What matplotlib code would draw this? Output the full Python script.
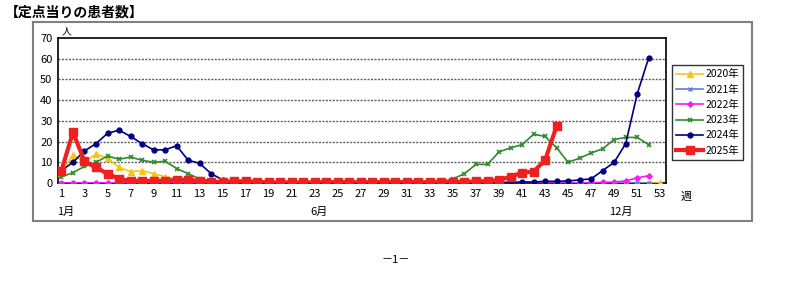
import matplotlib
matplotlib.use("Agg")
import matplotlib.pyplot as plt
from matplotlib.patches import Rectangle
import numpy as np

plt.rcParams['font.family'] = ['Noto Sans CJK JP', 'DejaVu Sans']

weeks_2020 = list(range(1, 54))
weeks = list(range(1, 53))

v2020 = [5, 13.5, 10, 14, 12, 7.5, 5.5, 6, 4.5, 3, 2, 1.5, 1, 0.5, 0.2] + [0] * 38
v2021 = [0] * 52
v2022 = [0] * 46 + [0.2, 0.3, 0.5, 1, 2.5, 3.5]
v2023 = [3, 5, 8, 10, 13, 11.5, 12.5, 11, 10, 10.5, 7, 4.5, 2, 1, 0.5,
         0.2, 0.1, 0.1, 0.1, 0.1, 0.1, 0.1, 0.1, 0.1, 0.1, 0.1, 0.1, 0.1, 0.1, 0.1,
         0.2, 0.2, 0.3, 0.5, 2, 4.5, 9, 9, 15, 17, 18.5, 23.5, 22.5, 17, 10, 12,
         14.5, 16.5, 21, 22, 22, 18.5]
v2024 = [6, 10, 15.5, 19, 24, 25.5, 22.5, 19, 16, 16, 18, 11, 9.5, 4.5, 1.5, 0.5,
         0.2, 0.1, 0.1, 0.1, 0.1, 0.1, 0.1, 0.1, 0.1, 0.1, 0.1, 0.1, 0.1, 0.1,
         0.1, 0.1, 0.1, 0.1, 0.1, 0.1, 0.2, 0.2, 0.3, 0.3, 0.5, 0.5, 0.8, 0.8,
         1, 1.5, 2, 6, 10, 19, 43, 60.5]
weeks_2025 = list(range(1, 45))
v2025 = [6, 24.5, 10.5, 7.5, 4.5, 2, 1, 1, 1, 1, 1.5, 1.5, 1, 0.5, 0.5, 0.8,
         0.8, 0.5, 0.3, 0.3, 0.3, 0.3, 0.3, 0.4, 0.4, 0.4, 0.3, 0.4, 0.5, 0.5,
         0.5, 0.4, 0.3, 0.5, 0.5, 0.5, 0.8, 0.8, 1.5, 3, 5, 5.5, 11, 27.5]

xticks = list(range(1, 54, 2))
yticks = list(range(0, 71, 10))
months = ['1月', '6月', '12月']
month_pos = [1.4, 23.4, 49.6]

fig = plt.figure(figsize=(7.92, 2.88), dpi=100)
fig.patch.set_facecolor('white')

# outer frame
fig.add_artist(Rectangle((33/792, 1-221/288), (752-33)/792, (221-22)/288,
                         transform=fig.transFigure, fill=False,
                         edgecolor='#808080', lw=1.5))

fig.text(5/792, 1-12/288, '【定点当りの患者数】', fontsize=10, fontweight='bold',
         va='center', ha='left')
fig.text(396/792, 1-260/288, '－1－', fontsize=8, va='center', ha='center')

ax = fig.add_axes([58/792, 1-183/288, (666-58)/792, (183-38)/288])
ax.set_xlim(0.7, 53.5)
ax.set_ylim(0, 70)

for y in yticks[1:-1]:
    ax.axhline(y, color='#606060', lw=1, linestyle=(0, (1.5, 1)), zorder=1)

ax.plot(weeks_2020, v2020, color='#F5C518', marker='^', ms=4, lw=1.2, label='2020年', zorder=3)
ax.plot(weeks, v2021, color='#5A7BE6', marker='x', ms=3.5, lw=1.2, label='2021年', zorder=3)
ax.plot(weeks, v2022, color='#F020F0', marker='D', ms=2.8, lw=1.2, label='2022年', zorder=3)
ax.plot(weeks, v2023, color='#2E8B2E', marker='x', ms=3.5, mew=1.2, lw=1.2, label='2023年', zorder=4)
ax.plot(weeks, v2024, color='#000080', marker='o', ms=3.5, lw=1.2, label='2024年', zorder=5)
ax.plot(weeks_2025, v2025, color='#F02020', marker='s', ms=6, lw=3, label='2025年', zorder=6)

ax.set_xticks(xticks)
ax.set_xticklabels([str(t) for t in xticks])
ax.set_yticks(yticks)
ax.tick_params(axis='both', length=0, labelsize=8, pad=4)
for s in ax.spines.values():
    s.set_color('black')
    s.set_linewidth(1.2)

ax.text(1.0, 70.8, '人', fontsize=7, ha='left', va='bottom')
ax.text(54.8, -4, '週', fontsize=8, ha='left', va='top', clip_on=False)
for m, p in zip(months, month_pos):
    ax.text(p, -11.5, m, fontsize=8, ha='center', va='top', clip_on=False)

leg = ax.legend(loc='upper left', bbox_to_anchor=(672/792, 1-65/288),
                bbox_transform=fig.transFigure, fontsize=7.5, frameon=True,
                fancybox=False, edgecolor='black', borderpad=0.4,
                labelspacing=0.5, handlelength=2.6, handletextpad=0.2,
                borderaxespad=0)
leg.get_frame().set_linewidth(1)

fig.savefig('out.png', dpi=100, facecolor='white')
